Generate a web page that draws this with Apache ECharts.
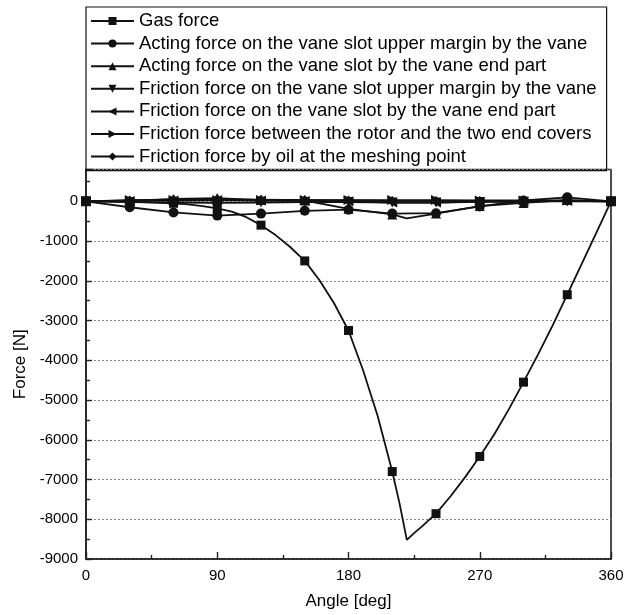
<!DOCTYPE html>
<html>
<head>
<meta charset="utf-8">
<script src="https://cdn.jsdelivr.net/npm/echarts@6/dist/echarts.min.js"></script>
<style>
  html, body { margin: 0; padding: 0; background: #fff; }
  #chart { width: 631px; height: 615px; }
</style>
</head>
<body>
<div id="chart"></div>
<script>
// Force components acting on the vane over one revolution
const angles = [0, 30, 60, 90, 120, 150, 180, 210, 240, 270, 300, 330, 360];

// Gas force, traced finely so the curve keeps its shape between markers
const gasAngles = [0, 30, 60, 70, 80, 90, 100, 110, 120, 130, 140, 150, 160, 170, 180, 190, 200, 210, 215, 220, 225, 230, 240, 250, 260, 270, 280, 290, 300, 310, 320, 330, 340, 350, 360];
const gasForce = [0, -10, -50, -80, -120, -180, -260, -400, -600, -850, -1150, -1500, -1980, -2560, -3250, -4250, -5400, -6800, -7600, -8520, -8350, -8190, -7860, -7420, -6940, -6420, -5860, -5230, -4550, -3850, -3120, -2350, -1570, -790, 0];

const actingUpper = [0, -150, -280, -360, -310, -240, -210, -310, -300, -130, 20, 100, 0];

const endAngles = [0, 30, 60, 90, 120, 150, 180, 210, 220, 240, 270, 300, 330, 360];
const actingEnd = [0, 10, 60, 80, 30, 20, -190, -330, -430, -310, -120, -40, 30, 0];

const frictionUpper = [0, -20, -30, -40, -30, -20, -20, -30, -30, -15, -10, 10, 0];
const frictionEnd = [0, 10, 20, 30, 20, 10, 0, -30, -30, -10, -5, 5, 0];
const frictionCovers = [0, 30, 30, 30, 30, 30, 30, 30, 30, 20, 20, 20, 0];
const frictionOil = [0, 20, 40, 50, 40, 30, 20, 10, 10, 5, 5, 5, 0];

const seriesNames = [
  'Gas force',
  'Acting force on the vane slot upper margin by the vane',
  'Acting force on the vane slot by the vane end part',
  'Friction force on the vane slot upper margin by the vane',
  'Friction force on the vane slot by the vane end part',
  'Friction force between the rotor and the two end covers',
  'Friction force by oil at the meshing point'
];

const yTicks = { min: -9000, max: 800, interval: 1000 };
const xTicks = { min: 0, max: 360, interval: 90 };

// pair x and y; points off the 30-degree grid are drawn without a marker
function pairs(xs, ys) {
  return xs.map((x, i) => (x % 30 === 0 ? [x, ys[i]] : { value: [x, ys[i]], symbol: 'none' }));
}

const FONT = '"Liberation Sans", Arial, sans-serif';
const INK = '#111';

function lineSeries(name, data, symbol, size) {
  return {
    name: name,
    type: 'line',
    data: data,
    symbol: symbol,
    symbolSize: size,
    showAllSymbol: true,
    lineStyle: { color: INK, width: 1.8 },
    itemStyle: { color: INK, borderWidth: 0 },
    emphasis: { disabled: true },
    animation: false
  };
}

const chart = echarts.init(document.getElementById('chart'), null, { renderer: 'canvas' });

chart.setOption({
  backgroundColor: '#fff',
  animation: false,
  legend: {
    orient: 'vertical',
    left: 86,
    top: 7,
    padding: [4, 10, 4, 4],
    itemWidth: 43,
    itemHeight: 10,
    itemGap: 2.6,
    borderColor: INK,
    borderWidth: 1.2,
    selectedMode: false,
    textStyle: { fontFamily: FONT, fontSize: 18.5, color: '#000', lineHeight: 20 },
    data: seriesNames
  },
  grid: {
    left: 86,
    right: 20,
    top: 169.5,
    bottom: 55,
    show: true,
    borderColor: '#222',
    borderWidth: 1.6,
    backgroundColor: 'transparent'
  },
  xAxis: {
    type: 'value',
    min: xTicks.min,
    max: xTicks.max,
    interval: xTicks.interval,
    name: 'Angle [deg]',
    nameLocation: 'middle',
    nameGap: 34,
    nameTextStyle: { fontFamily: FONT, fontSize: 17, color: '#000' },
    axisLine: { show: true, onZero: false, lineStyle: { color: '#222', width: 1.6 } },
    axisTick: { show: true, inside: true, length: 7, lineStyle: { color: '#222', width: 1.4 } },
    minorTick: { show: true, splitNumber: 2, length: 4, lineStyle: { color: '#222', width: 1.4 } },
    axisLabel: { fontFamily: FONT, fontSize: 15, color: '#000', margin: 9 },
    splitLine: { show: false }
  },
  yAxis: {
    type: 'value',
    min: yTicks.min,
    max: yTicks.max,
    interval: yTicks.interval,
    name: 'Force [N]',
    nameLocation: 'middle',
    nameGap: 54,
    nameTextStyle: { fontFamily: FONT, fontSize: 17, color: '#000' },
    axisLine: { show: true, onZero: false, lineStyle: { color: '#222', width: 1.6 } },
    axisTick: { show: true, inside: true, length: 6, lineStyle: { color: '#222', width: 1.4 } },
    minorTick: { show: true, splitNumber: 2, length: 4, lineStyle: { color: '#222', width: 1.4 } },
    axisLabel: {
      fontFamily: FONT, fontSize: 15, color: '#000', margin: 8,
      showMaxLabel: false,
      formatter: v => (v > 0 ? '' : String(v))
    },
    splitLine: { show: true, lineStyle: { color: '#888', width: 1, type: [2, 2] } }
  },
  series: [
    lineSeries(seriesNames[0], pairs(gasAngles, gasForce), 'rect', 9),
    lineSeries(seriesNames[1], pairs(angles, actingUpper), 'circle', 10),
    lineSeries(seriesNames[2], pairs(endAngles, actingEnd), 'triangle', 10),
    lineSeries(seriesNames[3], pairs(angles, frictionUpper), 'path://M0,0L10,0L5,9Z', 10),
    lineSeries(seriesNames[4], pairs(angles, frictionEnd), 'path://M9,0L9,10L0,5Z', 10),
    lineSeries(seriesNames[5], pairs(angles, frictionCovers), 'path://M0,0L0,10L9,5Z', 10),
    lineSeries(seriesNames[6], pairs(angles, frictionOil), 'diamond', 10)
  ]
});
</script>
</body>
</html>
